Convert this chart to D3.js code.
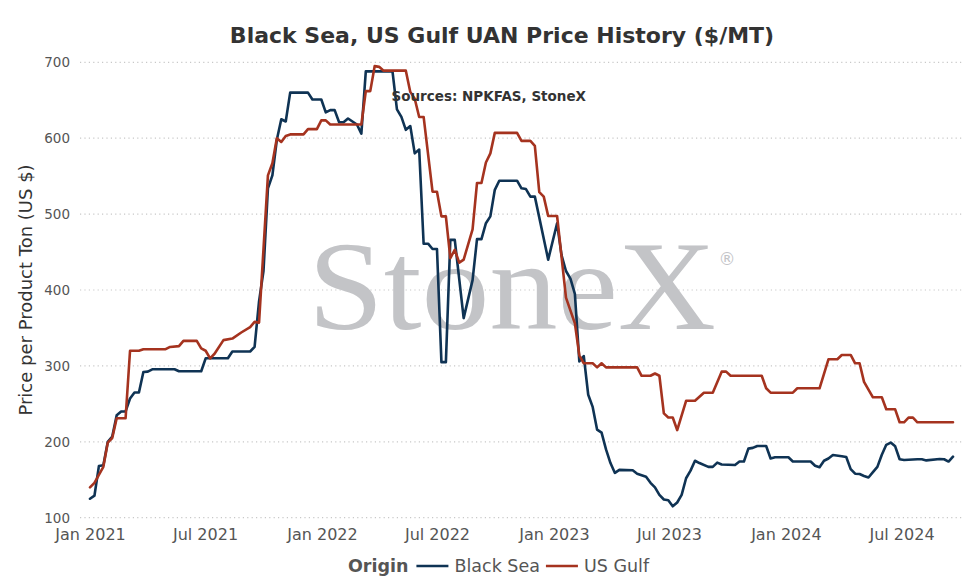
<!DOCTYPE html>
<html>
<head>
<meta charset="utf-8">
<script src="https://cdn.jsdelivr.net/npm/d3@7/dist/d3.min.js"></script>
<style>
  html, body { margin: 0; padding: 0; background: #fff; }
  svg { display: block; }
</style>
</head>
<body>
<svg id="chart" width="980" height="588"></svg>
<script>
// ---------------- DATA ----------------
const seriesNames = ["Black Sea", "US Gulf"];

const blackSeaDates = [
  "2021-01-01","2021-01-08","2021-01-15","2021-01-22","2021-01-29","2021-02-05","2021-02-12","2021-02-19","2021-02-26",
  "2021-03-05","2021-03-12","2021-03-19","2021-03-26","2021-04-02","2021-04-09","2021-05-14","2021-05-21","2021-06-25",
  "2021-07-02","2021-08-06","2021-08-13","2021-09-10","2021-09-17","2021-09-24","2021-10-01","2021-10-08","2021-10-15",
  "2021-10-22","2021-10-29","2021-11-05","2021-11-12","2021-12-10","2021-12-17","2021-12-31","2022-01-07","2022-01-14",
  "2022-01-21","2022-01-28","2022-02-04","2022-02-11","2022-02-25","2022-03-04","2022-03-11","2022-04-22","2022-04-29",
  "2022-05-06","2022-05-13","2022-05-20","2022-05-27","2022-06-03","2022-06-10","2022-06-17","2022-06-24","2022-07-01",
  "2022-07-08","2022-07-15","2022-07-22","2022-07-29","2022-08-12","2022-08-26","2022-09-02","2022-09-09","2022-09-16",
  "2022-09-23","2022-09-30","2022-10-07","2022-11-04","2022-11-11","2022-11-18","2022-11-25","2022-12-02","2022-12-23",
  "2023-01-06","2023-01-13","2023-01-20","2023-01-27","2023-02-03","2023-02-10","2023-02-17","2023-02-24","2023-03-03",
  "2023-03-10","2023-03-17","2023-03-24","2023-03-31","2023-04-07","2023-04-14","2023-05-05","2023-05-12","2023-05-19",
  "2023-05-26","2023-06-02","2023-06-09","2023-06-16","2023-06-23","2023-06-30","2023-07-07","2023-07-14","2023-07-21",
  "2023-07-28","2023-08-04","2023-08-11","2023-08-18","2023-09-01","2023-09-08","2023-09-15","2023-09-22","2023-10-13",
  "2023-10-20","2023-10-27","2023-11-03","2023-11-10","2023-11-17","2023-12-01","2023-12-08","2023-12-15","2024-01-05",
  "2024-01-12","2024-02-09","2024-02-16","2024-02-23","2024-03-01","2024-03-08","2024-03-15","2024-03-29","2024-04-05",
  "2024-04-12","2024-04-19","2024-04-26","2024-05-03","2024-05-10","2024-05-17","2024-05-24","2024-05-31","2024-06-07",
  "2024-06-14","2024-06-21","2024-06-28","2024-07-05","2024-07-26","2024-08-02","2024-08-09","2024-08-30","2024-09-06",
  "2024-09-13","2024-09-20"
];
const blackSeaValues = [
  125,129,168,169,200,207,235,240,240,
  257,265,265,292,292.5,295.5,295.5,293,293,
  310,310,319,319,325,385,425,534,551,
  598,625,622,660,660,651,651,634,637,
  637,621,621,626,618,606,688,688,638,
  628,611,616,580,585,461,461,454,454,
  305,305,466,466,363,413,467,467,488,
  497,532,544,544,534,533,523,523,440,
  488,446,425,415,395,306,313,262,246,
  216,212,190,172,159,163,162.5,158,156,
  154,146,140,130,124,123,115,120,130,
  152,162,175,172,167,167,172.5,170,169.5,
  174,174,191,192,194.5,194.5,178,179.6,179.6,
  174,174,168.5,166.4,175,178,182.6,181,180,
  164,158,157.6,155,153,160,167,183,196,
  199,194,177,176,177,177,175.5,177.3,177,
  174,180.4
];

const usGulfDates = [
  "2021-01-01","2021-01-08","2021-01-22","2021-01-29","2021-02-05","2021-02-12","2021-02-26","2021-03-05","2021-03-19",
  "2021-03-26","2021-04-30","2021-05-07","2021-05-21","2021-05-28","2021-06-18","2021-06-25","2021-07-02","2021-07-09",
  "2021-07-16","2021-07-30","2021-08-13","2021-08-27","2021-09-10","2021-09-17","2021-09-24","2021-10-08","2021-10-15",
  "2021-10-22","2021-10-29","2021-11-05","2021-11-12","2021-12-03","2021-12-10","2021-12-24","2021-12-31","2022-01-07",
  "2022-01-14","2022-03-04","2022-03-11","2022-03-18","2022-03-25","2022-04-01","2022-04-08","2022-05-13","2022-05-20",
  "2022-05-27","2022-06-03","2022-06-10","2022-06-24","2022-07-01","2022-07-08","2022-07-15","2022-07-22","2022-07-29",
  "2022-08-05","2022-08-12","2022-08-26","2022-09-02","2022-09-09","2022-09-16","2022-09-23","2022-09-30","2022-11-04",
  "2022-11-11","2022-11-25","2022-12-02","2022-12-09","2022-12-16","2022-12-23","2023-01-06","2023-01-20","2023-02-03",
  "2023-02-10","2023-02-17","2023-03-03","2023-03-10","2023-03-17","2023-03-24","2023-05-12","2023-05-19","2023-06-02",
  "2023-06-09","2023-06-16","2023-06-23","2023-06-30","2023-07-07","2023-07-14","2023-07-28","2023-08-11","2023-08-25",
  "2023-09-08","2023-09-22","2023-09-29","2023-10-06","2023-11-24","2023-12-01","2023-12-08","2024-01-12","2024-01-19",
  "2024-02-23","2024-03-08","2024-03-22","2024-03-29","2024-04-12","2024-04-19","2024-04-26","2024-05-03","2024-05-17",
  "2024-05-31","2024-06-07","2024-06-21","2024-06-28","2024-07-05","2024-07-12","2024-07-19","2024-07-26","2024-09-20"
];
const usGulfValues = [
  140,146,167,199,205,231,231,320,320,
  322,322,325,326,333,333,323,320,310,
  316,334,336,344,351,358,357,551,567,
  600,595,603,605,605,612,612,623.5,623.5,
  618,618,662,662,695,694,689,689,661,
  652,628,628,529.5,529.5,497,497,442,453,
  436,440,480,541,541,568,580,607,607,
  596.5,596.5,590,529,523,497.5,497.5,390,356,
  314,303.4,303.4,298,303.4,298,298,287,287,
  290,287,237.5,232,232,215.5,254,254,264.7,
  264.7,292.4,292.4,287,287,270.5,264.7,264.7,270.5,
  270.5,308.7,308.7,314.4,314.4,303.4,303.4,279,258.6,
  258.6,242.8,242.8,225.7,225.7,231.8,231.8,225.7,225.7
];

const yTickValues = [100, 200, 300, 400, 500, 600, 700];
const xTickDates = ["2021-01-01","2021-07-01","2022-01-01","2022-07-01","2023-01-01","2023-07-01","2024-01-01","2024-07-01"];

const titleText = "Black Sea, US Gulf UAN Price History ($/MT)";
const sourceText = "Sources: NPKFAS, StoneX";
const yAxisTitle = "Price per Product Ton (US $)";
const legendTitle = "Origin";

// ---------------- CHART ----------------
const parse = d3.utcParse("%Y-%m-%d");
const colors = { "Black Sea": "#0f3354", "US Gulf": "#a5331f" };
const FONT = "Verdana, 'DejaVu Sans', sans-serif";

const series = [
  { name: "Black Sea", points: blackSeaDates.map((d, i) => ({ date: parse(d), value: blackSeaValues[i] })) },
  { name: "US Gulf",   points: usGulfDates.map((d, i) => ({ date: parse(d), value: usGulfValues[i] })) }
];

const svg = d3.select("#chart");
const plotLeft = 80, plotRight = 963, pad = 10;
const allDates = series.flatMap(s => s.points.map(p => p.date));

const x = d3.scaleUtc().domain(d3.extent(allDates)).range([plotLeft + pad, plotRight - pad]);
const y = d3.scaleLinear().domain([100, 700]).range([517.7, 62.3]);

// Title
svg.append("text")
  .attr("x", 502).attr("y", 43)
  .attr("text-anchor", "middle")
  .style("font-family", FONT).style("font-weight", "bold").style("font-size", "22px")
  .style("fill", "#333")
  .text(titleText);

// Gridlines
svg.append("g").selectAll("line").data(yTickValues).join("line")
  .attr("x1", plotLeft).attr("x2", plotRight)
  .attr("y1", d => y(d)).attr("y2", d => y(d))
  .attr("stroke", "#c8c8c8").attr("stroke-width", 1.2)
  .attr("stroke-dasharray", "1.2,3.2");

// Watermark
svg.append("text")
  .attr("x", 308).attr("y", 329)
  .attr("textLength", 408).attr("lengthAdjust", "spacingAndGlyphs")
  .style("font-family", "'Liberation Serif', 'Times New Roman', serif")
  .style("font-size", "128px").style("fill", "#c3c4c7")
  .text("StoneX");
svg.append("text")
  .attr("x", 727).attr("y", 265)
  .attr("text-anchor", "middle")
  .style("font-family", "'DejaVu Sans', sans-serif")
  .style("font-size", "17px").style("fill", "#c3c4c7")
  .text("\u00AE");

// Y axis
const yAxis = svg.append("g").attr("transform", `translate(${plotLeft},0)`)
  .call(d3.axisLeft(y).tickValues(yTickValues).tickSize(0).tickPadding(10));
yAxis.select(".domain").remove();
yAxis.selectAll("text").style("font-family", FONT).style("font-size", "13.5px").style("fill", "#555");

// X axis
const xAxis = svg.append("g").attr("transform", `translate(0,${y(100)})`)
  .call(d3.axisBottom(x).tickValues(xTickDates.map(parse)).tickFormat(d3.utcFormat("%b %Y")).tickSize(0).tickPadding(10.5));
xAxis.select(".domain").remove();
xAxis.selectAll("text").style("font-family", FONT).style("font-size", "16px").style("fill", "#555");

// Y axis title
svg.append("text")
  .attr("transform", `translate(32,${(y(100) + y(700)) / 2}) rotate(-90)`)
  .attr("text-anchor", "middle")
  .style("font-family", FONT).style("font-size", "18px").style("fill", "#333")
  .text(yAxisTitle);

// Lines
const line = d3.line().x(d => x(d.date)).y(d => y(d.value));
svg.append("g").selectAll("path").data(series).join("path")
  .attr("d", d => line(d.points))
  .attr("fill", "none")
  .attr("stroke", d => colors[d.name])
  .attr("stroke-width", 2.6)
  .attr("stroke-linejoin", "round")
  .attr("stroke-linecap", "round");

// Source annotation
svg.append("text")
  .attr("x", 391.5).attr("y", 100.5)
  .style("font-family", FONT).style("font-weight", "bold").style("font-size", "13.5px")
  .style("fill", "#333")
  .text(sourceText);

// Legend
const lg = svg.append("g");
const lgY = 572;
let cx = 0;
const t0 = lg.append("text").attr("x", cx).attr("y", lgY)
  .style("font-family", FONT).style("font-weight", "bold").style("font-size", "17.5px").style("fill", "#555")
  .text(legendTitle);
cx += t0.node().getComputedTextLength() + 8;
seriesNames.forEach((name, i) => {
  lg.append("line").attr("x1", cx).attr("x2", cx + 32).attr("y1", lgY - 6).attr("y2", lgY - 6)
    .attr("stroke", colors[name]).attr("stroke-width", 2.6);
  cx += 32 + 6;
  const t = lg.append("text").attr("x", cx).attr("y", lgY)
    .style("font-family", FONT).style("font-size", "17.5px").style("fill", "#555")
    .text(name);
  cx += t.node().getComputedTextLength() + (i === 0 ? 6 : 0);
});
lg.attr("transform", `translate(${498.5 - cx / 2},0)`);
</script>
</body>
</html>
